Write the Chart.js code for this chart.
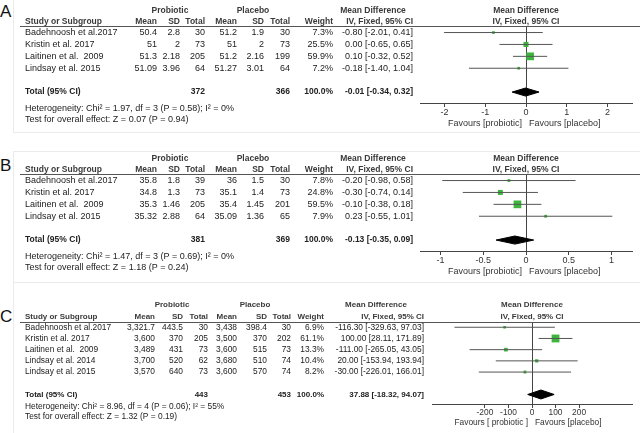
<!DOCTYPE html>
<html>
<head>
<meta charset="utf-8">
<script src="https://cdn.jsdelivr.net/npm/chart.js@4.4.1/dist/chart.umd.min.js"></script>
<style>
    html, body { margin:0; padding:0; background:#fff; width:640px; height:433px; overflow:hidden; font-family:"Liberation Sans", Arial, sans-serif; }
    canvas { position:absolute; left:0; }
    .box { position:absolute; left:13px; width:640px; border:1px solid #ebebeb; }
    .letter { position:absolute; left:0; font-size:17px; line-height:17px; color:#111; }
</style>
</head>
<body>
<div class="box" style="top:-1px; height:132px;"></div>
<div class="box" style="top:151px; height:130px;"></div>
<div class="box" style="top:282px; height:160px;"></div>
<div class="letter" style="top:3px;">A</div>
<div class="letter" style="top:157px;">B</div>
<div class="letter" style="top:308px;">C</div>
<canvas id="chartA" width="640" height="134" style="top:0px;"></canvas>
<canvas id="chartB" width="640" height="134" style="top:148px;"></canvas>
<canvas id="chartC" width="640" height="137" style="top:296px;"></canvas>
<script>
// --- Panel A ---
const aStudies = ['Badehnoosh et al.2017', 'Kristin et al. 2017', 'Laitinen et al.  2009', 'Lindsay et al. 2015'];
const aProMean = [50.4, 51, 51.3, 51.09];
const aProSd = [2.8, 2, 2.18, 3.96];
const aProN = [30, 73, 205, 64];
const aPlaMean = [51.2, 51, 51.2, 51.27];
const aPlaSd = [1.9, 2, 2.16, 3.01];
const aPlaN = [30, 73, 199, 64];
const aWeight = [7.3, 25.5, 59.9, 7.2];
const aMd = [-0.80, 0.00, 0.10, -0.18];
const aLow = [-2.01, -0.65, -0.32, -1.40];
const aHigh = [0.41, 0.65, 0.52, 1.04];
const aTotalN = [372, 366];
const aPooled = [-0.01, -0.34, 0.32];
const aTicks = [-2, -1, 0, 1, 2];
const aTickLabels = ['-2', '-1', '0', '1', '2'];
const aHet = 'Heterogeneity: Chi\u00b2 = 1.97, df = 3 (P = 0.58); I\u00b2 = 0%';
const aTest = 'Test for overall effect: Z = 0.07 (P = 0.94)';

// --- Panel B ---
const bStudies = ['Badehnoosh et al.2017', 'Kristin et al. 2017', 'Laitinen et al.  2009', 'Lindsay et al. 2015'];
const bProMean = [35.8, 34.8, 35.3, 35.32];
const bProSd = [1.8, 1.3, 1.46, 2.88];
const bProN = [39, 73, 205, 64];
const bPlaMean = [36, 35.1, 35.4, 35.09];
const bPlaSd = [1.5, 1.4, 1.45, 1.36];
const bPlaN = [30, 73, 201, 65];
const bWeight = [7.8, 24.8, 59.5, 7.9];
const bMd = [-0.20, -0.30, -0.10, 0.23];
const bLow = [-0.98, -0.74, -0.38, -0.55];
const bHigh = [0.58, 0.14, 0.18, 1.01];
const bTotalN = [381, 369];
const bPooled = [-0.13, -0.35, 0.09];
const bTicks = [-1, -0.5, 0, 0.5, 1];
const bTickLabels = ['-1', '-0.5', '0', '0.5', '1'];
const bHet = 'Heterogeneity: Chi\u00b2 = 1.47, df = 3 (P = 0.69); I\u00b2 = 0%';
const bTest = 'Test for overall effect: Z = 1.18 (P = 0.24)';

// --- Panel C ---
const cStudies = ['Badehnoosh et al.2017', 'Kristin et al. 2017', 'Laitinen et al.  2009', 'Lindsay et al. 2014', 'Lindsay et al. 2015'];
const cProMean = [3321.7, 3600, 3489, 3700, 3570];
const cProSd = [443.5, 370, 431, 520, 640];
const cProN = [30, 205, 73, 62, 73];
const cPlaMean = [3438, 3500, 3600, 3680, 3600];
const cPlaSd = [398.4, 370, 515, 510, 570];
const cPlaN = [30, 202, 73, 74, 74];
const cWeight = [6.9, 61.1, 13.3, 10.4, 8.2];
const cMd = [-116.30, 100.00, -111.00, 20.00, -30.00];
const cLow = [-329.63, 28.11, -265.05, -153.94, -226.01];
const cHigh = [97.03, 171.89, 43.05, 193.94, 166.01];
const cTotalN = [443, 453];
const cPooled = [37.88, -18.32, 94.07];
const cTicks = [-200, -100, 0, 100, 200];
const cTickLabels = ['-200', '-100', '0', '100', '200'];
const cHet = 'Heterogeneity: Chi\u00b2 = 8.96, df = 4 (P = 0.06); I\u00b2 = 55%';
const cTest = 'Test for overall effect: Z = 1.32 (P = 0.19)';

const FONT = '"Liberation Sans", Arial, sans-serif';
const fmt = v => v.toLocaleString('en-US');
const ci = (m, l, h) => `${m.toFixed(2)} [${l.toFixed(2)}, ${h.toFixed(2)}]`;

function forest(id, d, lay) {
    const totalRow = d.studies.length + 1;

    // table text drawn next to the plot, rows follow the y scale
    const tablePlugin = {
        id: 'table_' + id,
        afterDraw(chart) {
            const ctx = chart.ctx;
            const ys = chart.scales.y, xs = chart.scales.x;
            const top = chart.chartArea.top, bottom = chart.chartArea.bottom;
            const plotMid = (xs.left + xs.right) / 2;
            const zero = xs.getPixelForValue(0);
            const c = lay.cols;
            const text = (s, x, y, align, bold) => {
                ctx.font = bold ? `bold ${lay.hfs}px ${FONT}` : `${lay.fs}px ${FONT}`;
                ctx.textAlign = align;
                ctx.fillText(s, x, y);
            };
            ctx.save();
            ctx.textBaseline = 'middle';

            ctx.strokeStyle = '#555';
            ctx.lineWidth = 1;
            ctx.beginPath();
            ctx.moveTo(20, top + 0.5);
            ctx.lineTo(640, top + 0.5);
            ctx.stroke();

            // header
            ctx.fillStyle = '#3a3a3a';
            let hy = top - lay.h1;
            text('Probiotic', lay.proC, hy, 'center', true);
            text('Placebo', lay.plaC, hy, 'center', true);
            text('Mean Difference', lay.mdC, hy, 'center', true);
            text('Mean Difference', plotMid, hy, 'center', true);
            hy = top - lay.h2;
            text('Study or Subgroup', 25, hy, 'left', true);
            ['Mean', 'SD', 'Total', 'Mean', 'SD', 'Total', 'Weight', 'IV, Fixed, 95% CI'].forEach((h, k) => text(h, c[k], hy, 'right', true));
            text('IV, Fixed, 95% CI', plotMid, hy, 'center', true);

            // study rows
            ctx.fillStyle = '#222';
            d.studies.forEach((s, i) => {
                const y = ys.getPixelForValue(i);
                text(s, 25, y, 'left');
                text(fmt(d.proMean[i]), c[0], y, 'right');
                text(fmt(d.proSd[i]), c[1], y, 'right');
                text(fmt(d.proN[i]), c[2], y, 'right');
                text(fmt(d.plaMean[i]), c[3], y, 'right');
                text(fmt(d.plaSd[i]), c[4], y, 'right');
                text(fmt(d.plaN[i]), c[5], y, 'right');
                text(d.weight[i].toFixed(1) + '%', c[6], y, 'right');
                text(ci(d.md[i], d.low[i], d.high[i]), c[7], y, 'right');
            });

            // total row
            let y = ys.getPixelForValue(totalRow);
            text('Total (95% CI)', 25, y, 'left', true);
            text(fmt(d.totalN[0]), c[2], y, 'right', true);
            text(fmt(d.totalN[1]), c[5], y, 'right', true);
            text('100.0%', c[6], y, 'right', true);
            text(ci(d.pooled[0], d.pooled[1], d.pooled[2]), c[7], y, 'right', true);

            text(d.het, 25, ys.getPixelForValue(lay.hetRow), 'left');
            text(d.test, 25, ys.getPixelForValue(lay.testRow), 'left');

            ctx.fillStyle = '#333';
            y = bottom + lay.favDy;
            text(d.favL, zero - 4, y, 'right');
            text(d.favR, zero + 3, y, 'left');
            ctx.restore();
        }
    };

    const datasets = [];
    // confidence interval lines
    d.md.forEach((m, i) => {
        datasets.push({
            type: 'line',
            data: [{ x: d.low[i], y: i }, { x: d.high[i], y: i }],
            borderColor: '#555',
            borderWidth: 1,
            pointRadius: 0
        });
    });
    // study squares, area by weight
    datasets.push({
        type: 'scatter',
        data: d.md.map((m, i) => ({ x: m, y: i })),
        pointStyle: 'rect',
        pointRadius: ctx => Math.sqrt(d.weight[ctx.dataIndex] / 2),
        backgroundColor: '#3db43d',
        borderWidth: 0
    });
    // pooled diamond
    const [est, lo, hi] = d.pooled;
    const h = lay.diamond;
    datasets.push({
        type: 'line',
        data: [
            { x: lo, y: totalRow }, { x: est, y: totalRow - h },
            { x: hi, y: totalRow }, { x: est, y: totalRow + h }, { x: lo, y: totalRow }
        ],
        borderColor: '#000',
        backgroundColor: '#000',
        borderWidth: 1,
        fill: 'shape',
        pointRadius: 0
    });

    new Chart(document.getElementById(id), {
        type: 'scatter',
        data: { datasets },
        options: {
            responsive: false,
            animation: false,
            devicePixelRatio: 1,
            layout: { padding: { left: lay.left, right: 640 - lay.right, top: lay.top, bottom: 0 } },
            plugins: { legend: { display: false }, tooltip: { enabled: false } },
            scales: {
                x: {
                    type: 'linear',
                    min: lay.xMin,
                    max: lay.xMax,
                    afterBuildTicks: s => { s.ticks = d.ticks.map(v => ({ value: v })); },
                    afterFit: s => { s.height = lay.axisH; },
                    ticks: {
                        autoSkip: false,
                        maxRotation: 0,
                        padding: 0,
                        color: '#333',
                        font: { size: lay.fs, family: FONT },
                        callback: (v, i) => d.tickLabels[i]
                    },
                    grid: {
                        color: c => (c.tick && c.tick.value === 0) ? '#444' : 'rgba(0,0,0,0)',
                        tickColor: '#444',
                        tickLength: 4
                    },
                    border: { color: '#444', width: 1 }
                },
                y: {
                    type: 'linear',
                    display: false,
                    reverse: true,
                    min: lay.yMin,
                    max: lay.yMax
                }
            }
        },
        plugins: [tablePlugin]
    });
}

const colsAB = [157, 180, 205, 237, 264, 290, 333, 413];

forest('chartA', {
    studies: aStudies, proMean: aProMean, proSd: aProSd, proN: aProN,
    plaMean: aPlaMean, plaSd: aPlaSd, plaN: aPlaN, weight: aWeight,
    md: aMd, low: aLow, high: aHigh, totalN: aTotalN, pooled: aPooled,
    ticks: aTicks, tickLabels: aTickLabels, het: aHet, test: aTest,
    favL: 'Favours [probiotic]', favR: 'Favours [placebo]'
}, {
    left: 420, right: 632, top: 26, axisH: 31, xMin: -2.6, xMax: 2.6,
    yMin: -0.55, yMax: 5.92, hetRow: 6.4, testRow: 7.3, diamond: 0.34,
    fs: 9, hfs: 8.5, h1: 15, h2: 4,
    cols: colsAB, proC: 170, plaC: 253, mdC: 373, favDy: 21
});

forest('chartB', {
    studies: bStudies, proMean: bProMean, proSd: bProSd, proN: bProN,
    plaMean: bPlaMean, plaSd: bPlaSd, plaN: bPlaN, weight: bWeight,
    md: bMd, low: bLow, high: bHigh, totalN: bTotalN, pooled: bPooled,
    ticks: bTicks, tickLabels: bTickLabels, het: bHet, test: bTest,
    favL: 'Favours [probiotic]', favR: 'Favours [placebo]'
}, {
    left: 420, right: 632, top: 26, axisH: 31, xMin: -1.24, xMax: 1.24,
    yMin: -0.55, yMax: 5.92, hetRow: 6.4, testRow: 7.3, diamond: 0.34,
    fs: 9, hfs: 8.5, h1: 15, h2: 4,
    cols: colsAB, proC: 170, plaC: 253, mdC: 373, favDy: 21
});

forest('chartC', {
    studies: cStudies, proMean: cProMean, proSd: cProSd, proN: cProN,
    plaMean: cPlaMean, plaSd: cPlaSd, plaN: cPlaN, weight: cWeight,
    md: cMd, low: cLow, high: cHigh, totalN: cTotalN, pooled: cPooled,
    ticks: cTicks, tickLabels: cTickLabels, het: cHet, test: cTest,
    favL: 'Favours [ probiotic ]', favR: 'Favours [placebo]'
}, {
    left: 432, right: 632, top: 26, axisH: 29, xMin: -425, xMax: 425,
    yMin: -0.47, yMax: 6.85, hetRow: 7.1, testRow: 8.0, diamond: 0.4,
    fs: 8.4, hfs: 8, h1: 17, h2: 5,
    cols: [155, 183, 208, 237, 267, 291, 324, 424], proC: 172, plaC: 255, mdC: 376, favDy: 19
});
</script>
</body>
</html>
